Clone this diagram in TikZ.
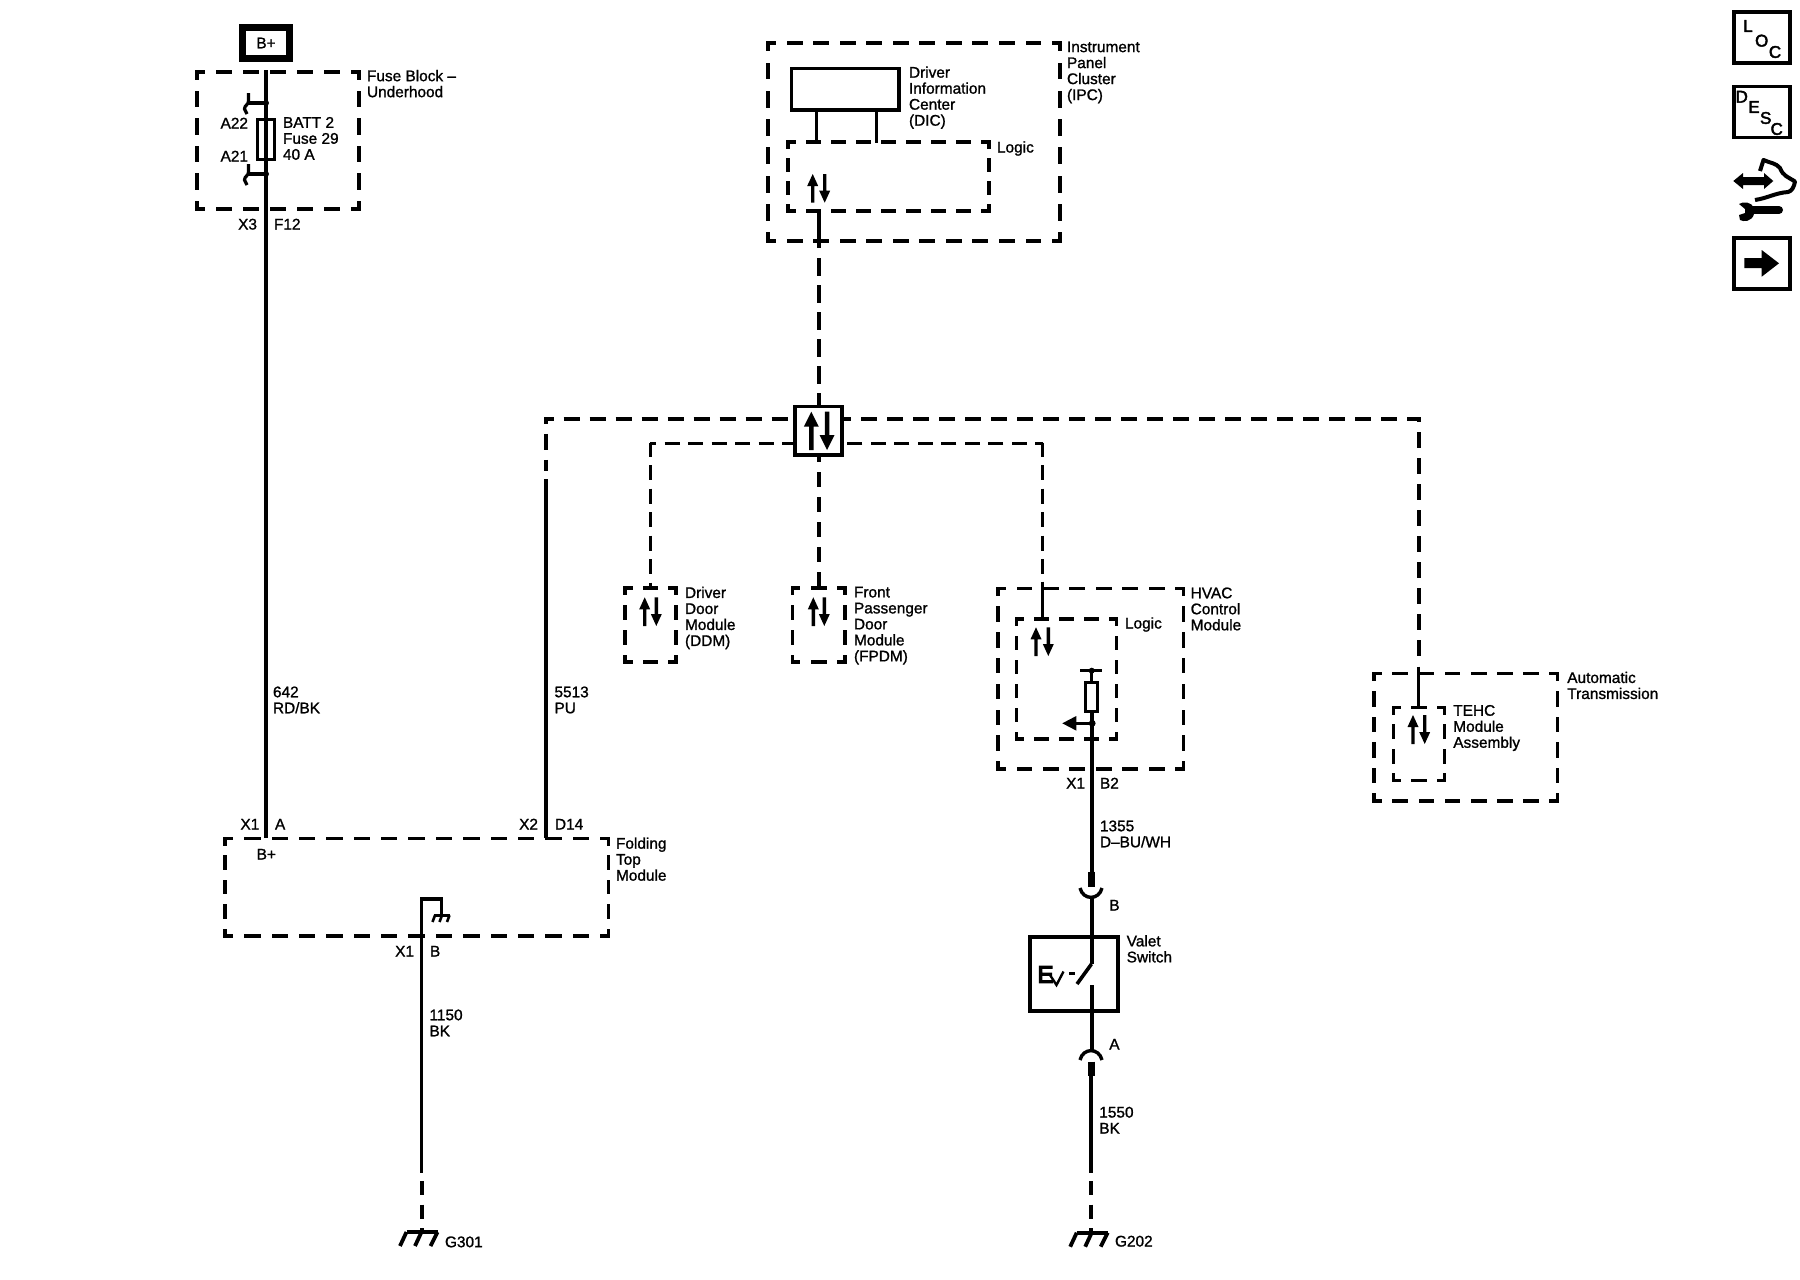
\documentclass[tikz,border=0pt]{standalone}
\usepackage{fontspec}
\newfontfamily\lblf[FakeBold=1.2]{Liberation Sans}
\newfontfamily\icof[FakeBold=2.5]{Liberation Sans}
\newfontfamily\bigf[FakeBold=6]{Liberation Sans}
\tikzset{
  lblstyle/.style={inner sep=0pt,outer sep=0pt,align=left,font=\lblf\fontsize{7.7}{8}\selectfont,execute at begin node={\rule{0pt}{6pt}}},
  wire/.style={line width=2pt},
  thinwire/.style={line width=1.6pt},
  heavybar/.style={line width=3.3pt},
  busdash/.style={line width=2pt,dash pattern=on 8pt off 5pt},
  smalldash/.style={line width=1.5pt,dash pattern=on 7.5pt off 4.25pt},
  centdash/.style={line width=2pt,dash pattern=on 7.5pt off 5pt},
  gnddash/.style={line width=2pt,dash pattern=on 7pt off 4.75pt},
  icobox/.style={draw,line width=1.75pt,inner sep=0pt,minimum width=28.2pt,minimum height=25.5pt},
  icoletter/.style={inner sep=0pt,font=\icof\fontsize{8.5}{9}\selectfont},
  dotmark/.style={circle,fill=black,inner sep=0pt,minimum size=3pt},
}
% dashed module outline: invisible named node plus four fitted dashed sides
\newcommand{\modbox}[6]{%
  \pgfmathsetmacro\bw{#4-#2}\pgfmathsetmacro\bh{#5-#3}%
  \pgfmathsetmacro\bwpt{\bw*0.5}\pgfmathsetmacro\bhpt{\bh*0.5}%
  \pgfmathsetmacro\bcx{(#2+#4)/2}\pgfmathsetmacro\bcy{(#3+#5)/2}%
  \pgfmathsetmacro\lwpt{#6*0.5}%
  \node[inner sep=0pt,outer sep=0pt,minimum width=\bwpt pt,minimum height=\bhpt pt] (#1) at (\bcx,\bcy) {};
  \pgfmathsetmacro\pw{\bwpt/max(1,round(\bw/26.5))}%
  \pgfmathsetmacro\onw{0.6*\pw-\lwpt}\pgfmathsetmacro\ofw{0.4*\pw+\lwpt}\pgfmathsetmacro\phw{\onw/2}%
  \pgfmathsetmacro\ph{\bhpt/max(1,round(\bh/26.5))}%
  \pgfmathsetmacro\onh{0.6*\ph-\lwpt}\pgfmathsetmacro\ofh{0.4*\ph+\lwpt}\pgfmathsetmacro\phh{\onh/2}%
  \draw[line width=\lwpt pt,line cap=rect,dash pattern=on \onw pt off \ofw pt,dash phase=\phw pt] (#1.north west) -- (#1.north east);
  \draw[line width=\lwpt pt,line cap=rect,dash pattern=on \onw pt off \ofw pt,dash phase=\phw pt] (#1.south west) -- (#1.south east);
  \draw[line width=\lwpt pt,line cap=rect,dash pattern=on \onh pt off \ofh pt,dash phase=\phh pt] (#1.north west) -- (#1.south west);
  \draw[line width=\lwpt pt,line cap=rect,dash pattern=on \onh pt off \ofh pt,dash phase=\phh pt] (#1.north east) -- (#1.south east);
}
% vertical arrow glyph: x, tail y, tip y, head width, head length, shaft width
\newcommand{\vertarr}[6]{%
  \pgfmathsetmacro\sg{(#3<#2)?1:-1}%
  \pgfmathsetmacro\hb{#3+\sg*#5}%
  \fill ({#1-#6/2},#2) -- ({#1-#6/2},\hb) -- ({#1-#4/2},\hb) -- (#1,#3) -- ({#1+#4/2},\hb) -- ({#1+#6/2},\hb) -- ({#1+#6/2},#2) -- cycle;
}
% x up, x down, top, bottom
\newcommand{\updown}[4]{\vertarr{#1}{#4}{#3}{11}{12}{3.4}\vertarr{#2}{#3}{#4}{11}{12}{3.4}}
% ground symbol
\newcommand{\gndsym}[2]{%
  \draw[line width=1.9pt] ({#1-15},#2) -- ({#1+16},#2);
  \draw[line width=1.9pt] ({#1-15},#2) -- ({#1-21.5},{#2+14});
  \draw[line width=1.9pt] (#1,#2) -- ({#1-6.5},{#2+14});
  \draw[line width=1.9pt] ({#1+16},#2) -- ({#1+9},{#2+14});
}
% labels: name, x, centre y of first line, text
\newcommand{\lbl}[4]{\node[lblstyle,anchor=north west] (#1) at (#2,{#3-6.5}) {#4};}
\newcommand{\lblr}[4]{\node[lblstyle,anchor=north east] (#1) at (#2,{#3-6.5}) {#4};}
\begin{document}
\begin{tikzpicture}[x=0.5pt,y=-0.5pt]
\useasboundingbox[fill=white] (0,0) rectangle (1800,1280);

%% Fuse block
\node[draw,line width=3.5pt,inner sep=0pt,minimum width=23.5pt,minimum height=15.5pt,font=\lblf\fontsize{7.7}{8}\selectfont] (bplus) at (266,43) {B+};
\modbox{fuseblock}{196.7}{71.7}{359}{209}{3.6}
\node[draw,line width=1.4pt,inner sep=0pt,minimum width=8.6pt,minimum height=19.8pt] (fuse) at (265.8,139.5) {};
\coordinate (mainTop) at (266,70);
\coordinate (mainBot) at (266,838);
\draw[wire] (mainTop) -- (mainBot);
\node[dotmark] (dotA22) at (266,103) {};
\node[dotmark] (dotA21) at (266,174) {};
\draw[line width=1.6pt] (dotA22.center) -- (248.5,103);
\draw[line width=1.6pt] (248.5,93) -- (248.5,101) .. controls (248.5,105) and (244.5,105) .. (244.5,109) -- (247,114);
\draw[line width=1.6pt] (dotA21.center) -- (248.5,174);
\draw[line width=1.6pt] (248.5,164) -- (248.5,172) .. controls (248.5,176) and (244.5,176) .. (244.5,180) -- (247,185);
\lblr{lA}{248}{123}{A22}
\lblr{lB}{248}{156}{A21}
\lbl{lC}{283}{123.5}{BATT 2\\Fuse 29\\40 A}
\lbl{lD}{367}{76.5}{Fuse Block –\\Underhood}
\lblr{lE}{257}{224}{X3}
\lbl{lF}{274}{224}{F12}
\lbl{lG}{273}{693}{642\\RD/BK}

%% Instrument panel cluster
\modbox{ipc}{768}{42.7}{1060}{240.7}{3.6}
\node[draw,line width=1.75pt,inner sep=0pt,minimum width=53.6pt,minimum height=20.9pt] (dic) at (845.3,89.2) {};
\modbox{ipclogic}{788}{142}{989}{211}{3.2}
\coordinate (dicA) at (816.7,143);
\coordinate (dicB) at (876.7,143);
\draw[thinwire] (dic.south -| dicA) -- (dicA);
\draw[thinwire] (dic.south -| dicB) -- (dicB);
\updown{812.7}{824.7}{174}{202.7}
\coordinate (ipcOut) at (819,211);
\coordinate (ipcOutB) at (819,248);
\draw[wire] (ipcOut) -- (ipcOutB);
\lbl{lH}{909}{73}{Driver\\Information\\Center\\(DIC)}
\lbl{lI}{997}{147}{Logic}
\lbl{lJ}{1067}{48}{Instrument\\Panel\\Cluster\\(IPC)}

%% Hub and bus
\coordinate (hubTopIn) at (819,258);
\coordinate (hubTopEnd) at (819,405);
\draw[line width=2pt,dash pattern=on 9pt off 4.5pt] (hubTopIn) -- (hubTopEnd);
\coordinate (cornerL) at (544,419.3);
\coordinate (hubL1) at (795,419.3);
\coordinate (cornerLb) at (546,417.3);
\coordinate (ftmWireTop) at (546,471);
\draw[busdash,dash phase=3.25pt] (cornerL) -- (hubL1);
\draw[busdash,dash phase=4.75pt] (cornerLb) -- (ftmWireTop);
\coordinate (cornerR) at (1420.7,419.3);
\coordinate (hubR1) at (842,419.3);
\draw[busdash,dash phase=1pt] (cornerR) -- (hubR1);
\coordinate (cornerRb) at (1418.7,417.3);
\coordinate (autoWireDash) at (1418.7,666);
\draw[busdash,dash phase=5.5pt] (cornerRb) -- (autoWireDash);
\coordinate (autoWire) at (1418.7,666.7);
\coordinate (wire2Top) at (546,479);
\coordinate (wire2Bot) at (546,838);
\draw[line width=1.7pt] (wire2Top) -- (wire2Bot);

\coordinate (inL) at (650,443.3);
\coordinate (hubL2) at (795,443.3);
\coordinate (inLb) at (650.7,442.5);
\coordinate (ddmTop) at (650.7,588);
\draw[smalldash,dash phase=4.5pt] (inL) -- (hubL2);
\draw[smalldash,dash phase=0.5pt] (inLb) -- (ddmTop);
\coordinate (inR) at (1043.3,443.3);
\coordinate (hubR2) at (842,443.3);
\coordinate (inRb) at (1042.3,442.5);
\coordinate (hvacDash) at (1042.3,575);
\draw[smalldash,dash phase=3.5pt] (inR) -- (hubR2);
\draw[smalldash,dash phase=0.5pt] (inRb) -- (hvacDash);
\coordinate (hubB) at (819.3,457);
\coordinate (fpdmTop) at (819.3,588);
\draw[centdash,dash phase=5pt] (hubB) -- (fpdmTop);

\node[draw,fill=white,line width=1.75pt,inner sep=0pt,minimum width=23.5pt,minimum height=24.2pt] (hub) at (818.5,430.9) {};
\vertarr{811.3}{450}{411.7}{15}{15}{4.5}
\vertarr{827}{411.7}{450}{15}{15}{4.5}

%% DDM / FPDM
\modbox{ddm}{625}{588}{676}{662}{3.2}
\updown{644.7}{656.3}{597.3}{626}
\lbl{lK}{685}{593.3}{Driver\\Door\\Module\\(DDM)}
\modbox{fpdm}{792.3}{588}{845}{662}{3.2}
\updown{813.3}{824.3}{597.3}{626}
\lbl{lL}{854}{593.3}{Front\\Passenger\\Door\\Module\\(FPDM)}

%% HVAC
\modbox{hvac}{998}{588.3}{1183.3}{769}{3.6}
\modbox{hvaclogic}{1016.7}{619}{1116.7}{739}{3.2}
\coordinate (hvacIn) at (1042.3,581.7);
\coordinate (hvacInB) at (1042.3,618);
\draw[thinwire] (hvacIn) -- (hvacInB);
\updown{1036}{1048.3}{627.3}{656}
\node[dotmark] (pullTop) at (1091.7,670.7) {};
\draw[line width=1.5pt] (1080,670.7) -- (1101.7,670.7);
\node[draw,line width=1.5pt,inner sep=0pt,minimum width=6.1pt,minimum height=14.5pt] (pullR) at (1091.7,696.7) {};
\draw[line width=1.5pt] (pullTop.center) -- (pullR.north);
\node[dotmark,minimum size=3.4pt] (pullDot) at (1092.2,723.3) {};
\coordinate (hvacTip) at (1062.3,723.3);
\draw[line width=1.7pt] (pullDot.center) -- (1076,723.3);
\fill (hvacTip) -- (1076.3,716) -- (1076.3,730.6) -- cycle;
\coordinate (hvacOutA) at (1091.5,711);
\coordinate (barBtop) at (1091.5,871.7);
\draw[wire] (hvacOutA) -- (barBtop);
\draw[heavybar] (1091.5,871.7) -- (1091.5,886.7);
\draw[line width=1.7pt] (1080,888) .. controls (1083,900.5) and (1099,900.5) .. (1102,888);
\lbl{lM}{1190.7}{594}{HVAC\\Control\\Module}
\lbl{lN}{1125}{623}{Logic}
\lblr{lO}{1085}{783}{X1}
\lbl{lP}{1100}{783}{B2}
\lbl{lQ}{1100}{827}{1355\\D–BU/WH}
\lbl{lR}{1109.3}{905}{B}

%% Valet switch
\node[draw,line width=1.75pt,inner sep=0pt,minimum width=44pt,minimum height=37pt] (valet) at (1074,974) {};
\coordinate (connB) at (1091.5,897);
\coordinate (swPivot) at (1091.5,964);
\coordinate (swContact) at (1091.5,985);
\coordinate (connA) at (1091.5,1051);
\draw[wire] (connB) -- (swPivot);
\draw[wire] (swContact) -- (connA);
\draw[line width=1.8pt] (swPivot) -- (1077,984);
\draw[line width=1.7pt] (1069.3,973.3) -- (1075.3,973.3);
\node[inner sep=0pt,font=\bigf\fontsize{12}{12}\selectfont,anchor=center] (evE) at (1045.5,974.5) {E};
\draw[line width=1.2pt] (1050,975) -- (1056.5,985) -- (1063.5,971.5);
\lbl{lS}{1126.7}{941.7}{Valet\\Switch}
\lbl{lT}{1109.3}{1044}{A}
\draw[line width=1.7pt] (1080,1060) .. controls (1083,1047.5) and (1099,1047.5) .. (1102,1060);
\draw[heavybar] (1091.5,1061.7) -- (1091.5,1076);
\coordinate (wireBot) at (1091,1076);
\coordinate (wireBotB) at (1091,1172.7);
\draw[wire] (wireBot) -- (wireBotB);
\lbl{lU}{1099.3}{1113.3}{1550\\BK}
\coordinate (gndRin) at (1091,1181);
\coordinate (gndR) at (1091,1232.7);
\draw[gnddash] (gndRin) -- (gndR);
\gndsym{1091.7}{1232.7}
\lbl{lV}{1115}{1241}{G202}

%% Automatic transmission
\modbox{auto}{1374}{673.3}{1557.3}{801}{3.6}
\modbox{tehc}{1393.3}{707.3}{1444.7}{780.7}{3.2}
\coordinate (autoWireB) at (1418.7,707);
\draw[thinwire] (autoWire) -- (autoWireB);
\updown{1413}{1424.7}{715}{744}
\lbl{lW}{1453.3}{711.5}{TEHC\\Module\\Assembly}
\lbl{lX}{1567.3}{678.3}{Automatic\\Transmission}

%% Folding top module
\modbox{ftm}{225}{838.3}{608.3}{936}{3.6}
\coordinate (ftmGndTop) at (421.7,899);
\coordinate (ftmGndR) at (441.7,899);
\coordinate (ftmGndBar) at (441.7,915);
\coordinate (wire3Bot) at (421.7,1172.7);
\draw[line width=1.7pt] (ftmGndBar) -- (ftmGndR) -- (ftmGndTop) -- (wire3Bot);
\draw[line width=1.4pt] (434,915.3) -- (450,915.3);
\draw[line width=1.3pt] (435,915.3) -- (432.5,922);
\draw[line width=1.3pt] (442,915.3) -- (439.5,922);
\draw[line width=1.3pt] (449.5,915.3) -- (447,922);
\lblr{lY}{259.3}{824}{X1}
\lbl{lZ}{275}{824}{A}
\lblr{lAa}{538}{824}{X2}
\lbl{lAb}{555}{824}{D14}
\lbl{lAc}{256.7}{854}{B+}
\lbl{lAd}{616}{844}{Folding\\Top\\Module}
\lblr{lAe}{414}{951}{X1}
\lbl{lAf}{430}{951}{B}
\lbl{lAg}{554.5}{693}{5513\\PU}
\lbl{lAh}{429.5}{1016}{1150\\BK}
\coordinate (gndLin) at (422,1181);
\coordinate (gndL) at (422,1232);
\draw[gnddash] (gndLin) -- (gndL);
\gndsym{421.5}{1232}
\lbl{lAi}{445}{1241.7}{G301}

%% Navigation icons
\node[icobox] (locbox) at (1762,37.7) {};
\node[icoletter] (locL) at (1748,26) {L};
\node[icoletter] (locO) at (1761.7,40.7) {O};
\node[icoletter] (locC) at (1775,52) {C};
\node[icobox] (descbox) at (1762,112) {};
\node[icoletter] (descD) at (1741.7,96.7) {D};
\node[icoletter] (descE) at (1754,107) {E};
\node[icoletter] (descS) at (1765.7,118) {S};
\node[icoletter] (descC) at (1776.7,129) {C};
\node[icobox] (nextbox) at (1762,263.7) {};
\fill (1744.3,258) -- (1761.7,258) -- (1761.7,250) -- (1779,263.3) -- (1761.7,276.7) -- (1761.7,268) -- (1744.3,268) -- cycle;
% service icon
\fill (1733.3,181) -- (1743,173) -- (1743,177) -- (1764,177) -- (1764,173) -- (1773.3,181) -- (1764,189) -- (1764,185) -- (1743,185) -- (1743,189) -- cycle;
\draw[line width=2pt,line join=round] (1760,171) -- (1763.5,160) .. controls (1770,163) and (1776,163) .. (1780,168) .. controls (1783,176) and (1788,177) .. (1795,181.5) .. controls (1794,187) and (1792,191) .. (1788,192) .. controls (1775,193) and (1768,198) .. (1755,200);
\draw[line width=4pt,line cap=round] (1750,210) -- (1779,210);
\fill (1739,204) .. controls (1743,201) and (1752,202) .. (1754,208) -- (1754,214) .. controls (1752,222) and (1743,222) .. (1740,220) -- (1739,215) -- (1745,213) -- (1745,209) -- cycle;
\end{tikzpicture}
\end{document}
